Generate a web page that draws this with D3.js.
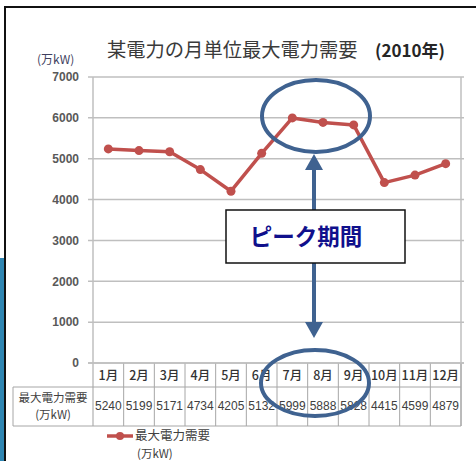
<!DOCTYPE html>
<html><head><meta charset="utf-8">
<script src="https://cdn.jsdelivr.net/npm/d3@7"></script>
<style>body{margin:0;background:#fff}svg{display:block}</style>
</head><body>
<script>
const months = ["1月","2月","3月","4月","5月","6月","7月","8月","9月","10月","11月","12月"];
const demand = [5240,5199,5171,4734,4205,5132,5999,5888,5828,4415,4599,4879];
const yTicks = [0,1000,2000,3000,4000,5000,6000,7000];
const title = "某電力の月単位最大電力需要";
const titleYear = "(2010年)";
const unit = "(万kW)";
const seriesName = "最大電力需要";
const peakLabel = "ピーク期間";

const W = 476, H = 461;
const JP = "'Noto Sans CJK JP','Noto Sans',sans-serif";
const svg = d3.select("body").append("svg").attr("width", W).attr("height", H);

// frame
svg.append("rect").attr("x",0).attr("y",258).attr("width",4).attr("height",H-258).attr("fill","#2F86B2");
svg.append("line").attr("x1",5).attr("x2",5).attr("y1",6).attr("y2",H).attr("stroke","#111").attr("stroke-width",2);
svg.append("line").attr("x1",4).attr("x2",W).attr("y1",7).attr("y2",7).attr("stroke","#111").attr("stroke-width",2);

const x = d3.scaleBand().domain(months).range([93,461]);
const y = d3.scaleLinear().domain([0,7000]).range([363,77]);

// gridlines
svg.append("g").selectAll("line").data(yTicks).join("line")
  .attr("x1",88).attr("x2",464).attr("y1",d=>y(d)).attr("y2",d=>y(d))
  .attr("stroke","#BFBFBF").attr("stroke-width",1.5);
// left & right plot border
svg.append("line").attr("x1",93).attr("x2",93).attr("y1",y(7000)).attr("y2",426).attr("stroke","#BFBFBF").attr("stroke-width",1.5);
svg.append("line").attr("x1",461).attr("x2",461).attr("y1",y(7000)).attr("y2",426).attr("stroke","#BFBFBF").attr("stroke-width",1.5);

// y axis labels
const ya = svg.append("g").attr("transform","translate(93,0)")
  .call(d3.axisLeft(y).tickValues(yTicks).tickSize(0).tickPadding(14).tickFormat(d3.format("d")));
ya.select(".domain").remove();
ya.selectAll("text").attr("font-family","'Liberation Sans',Arial,sans-serif").attr("font-size",12)
  .attr("font-weight","bold").attr("fill","#595959");

// unit label
svg.append("text").attr("x",37).attr("y",64).text(unit).attr("font-family",JP).attr("font-size",12).attr("fill","#3F3F5F");

// title
svg.append("text").attr("x",107).attr("y",57).text(title).attr("font-family",JP).attr("font-size",19.3)
  .attr("font-weight",400).attr("fill","#3A3A3A");
svg.append("text").attr("x",375).attr("y",57).text(titleYear).attr("font-family",JP).attr("font-size",17)
  .attr("font-weight","bold").attr("fill","#262626");

// data table
const tbl = svg.append("g");
const gcol = "#A6A6A6";
tbl.append("line").attr("x1",13).attr("x2",461).attr("y1",387).attr("y2",387).attr("stroke",gcol);
tbl.append("line").attr("x1",13).attr("x2",461).attr("y1",426).attr("y2",426).attr("stroke",gcol);
tbl.append("line").attr("x1",13).attr("x2",13).attr("y1",387).attr("y2",426).attr("stroke",gcol);
tbl.selectAll("line.v").data(months).join("line").attr("class","v")
  .attr("x1",d=>x(d)+x.bandwidth()).attr("x2",d=>x(d)+x.bandwidth()).attr("y1",363).attr("y2",426).attr("stroke",gcol);
tbl.selectAll("text.m").data(months).join("text").attr("class","m")
  .attr("x",d=>x(d)+x.bandwidth()/2).attr("y",380).attr("text-anchor","middle")
  .text(d=>d).attr("font-family",JP).attr("font-size",12.5).attr("font-weight",500).attr("fill","#333");
tbl.selectAll("text.v").data(demand).join("text").attr("class","v")
  .attr("x",(d,i)=>x(months[i])+x.bandwidth()/2).attr("y",410).attr("text-anchor","middle")
  .text(d=>d).attr("font-family","'Liberation Sans Narrow','Liberation Sans',sans-serif").attr("font-size",12).attr("fill","#404040");
tbl.append("text").attr("x",53).attr("y",402).attr("text-anchor","middle").text(seriesName)
  .attr("font-family",JP).attr("font-size",11.5).attr("fill","#404040");
tbl.append("text").attr("x",53).attr("y",419).attr("text-anchor","middle").text(unit)
  .attr("font-family",JP).attr("font-size",11.5).attr("fill","#404040");

// x axis line
svg.append("line").attr("x1",88).attr("x2",464).attr("y1",363).attr("y2",363).attr("stroke","#BFBFBF").attr("stroke-width",1.5);

// series
const red = "#C0504D";
const line = d3.line().x((d,i)=>x(months[i])+x.bandwidth()/2).y(d=>y(d));
svg.append("path").datum(demand).attr("d",line).attr("fill","none").attr("stroke",red).attr("stroke-width",3.5).attr("stroke-linejoin","round");
svg.append("g").selectAll("circle").data(demand).join("circle")
  .attr("cx",(d,i)=>x(months[i])+x.bandwidth()/2).attr("cy",d=>y(d)).attr("r",4.5).attr("fill",red);

// legend
svg.append("line").attr("x1",107).attr("x2",133).attr("y1",436).attr("y2",436).attr("stroke",red).attr("stroke-width",3.5);
svg.append("circle").attr("cx",120).attr("cy",436).attr("r",4).attr("fill",red);
svg.append("text").attr("x",135).attr("y",440).text(seriesName).attr("font-family",JP).attr("font-size",12.5).attr("fill","#404040");
svg.append("text").attr("x",137).attr("y",457.5).text(unit).attr("font-family",JP).attr("font-size",11.5).attr("fill","#404040");

// annotations
const blue = "#3F6290";
svg.append("ellipse").attr("cx",316).attr("cy",116).attr("rx",54).attr("ry",36).attr("fill","none").attr("stroke",blue).attr("stroke-width",4);
svg.append("ellipse").attr("cx",315).attr("cy",383).attr("rx",54).attr("ry",33).attr("fill","none").attr("stroke",blue).attr("stroke-width",4);
svg.append("line").attr("x1",314).attr("x2",314).attr("y1",166).attr("y2",326).attr("stroke",blue).attr("stroke-width",4);
svg.append("path").attr("d","M314,154 L305,170 L323,170 Z").attr("fill",blue);
svg.append("path").attr("d","M314,338 L305,322 L323,322 Z").attr("fill",blue);
svg.append("rect").attr("x",226).attr("y",210).attr("width",179).attr("height",53).attr("fill","#fff").attr("stroke","#111").attr("stroke-width",1.5);
svg.append("text").attr("x",306).attr("y",245).attr("text-anchor","middle").text(peakLabel)
  .attr("font-family",JP).attr("font-size",22.5).attr("font-weight","bold").attr("fill","#10108C");
</script>
</body></html>
